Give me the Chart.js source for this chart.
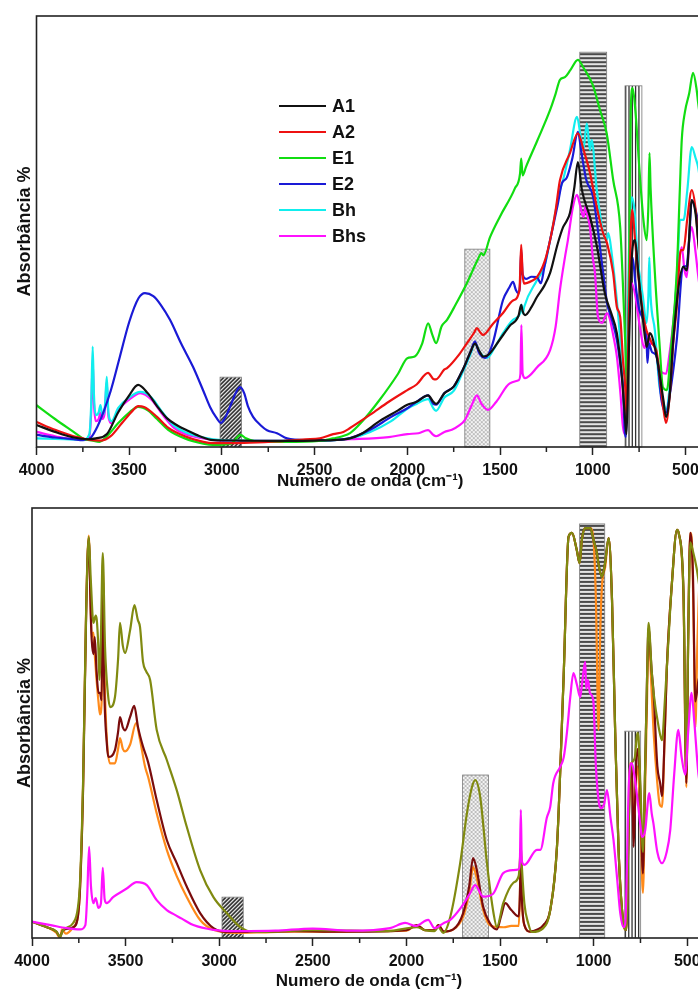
<!DOCTYPE html>
<html>
<head>
<meta charset="utf-8">
<script src="https://cdn.jsdelivr.net/npm/chart.js@4.4.1/dist/chart.umd.min.js"></script>
<style>
html,body{margin:0;padding:0;background:#fff;width:698px;height:989px;overflow:hidden;position:relative;}
canvas{position:absolute;left:0;}
#c1{top:0;}
#c2{top:492px;}
</style>
</head>
<body>
<canvas id="c1" width="720" height="492"></canvas>
<canvas id="c2" width="720" height="500"></canvas>
<script>
// ---------- tick labels ----------
const majorTicks = [4000, 3500, 3000, 2500, 2000, 1500, 1000, 500];
const minorTicks = [3750, 3250, 2750, 2250, 1750, 1250, 750];
const xTitle = 'Numero de onda (cm\u207B\u00B9)';
const yTitle = 'Absorbância %';

// ---------- top panel series: [wavenumber, absorbance (arb. %)] ----------
const topLabels = ['A1', 'A2', 'E1', 'E2', 'Bh', 'Bhs'];
const A1 = [[4000,5.1],[3900,3.5],[3800,2.2],[3720,1.8],[3680,2],[3620,3],[3560,8],[3500,12],[3452,14.4],[3400,12.5],[3350,9.5],[3297,6.7],[3240,5],[3190,3.9],[3120,2.5],[3048,1.6],[2900,1.5],[2700,1.4],[2500,1.5],[2400,1.6],[2309,2],[2250,3],[2150,6],[2050,8.5],[2000,9.8],[1950,10.5],[1888,12],[1860,10.5],[1845,10],[1800,12.5],[1750,14],[1700,18],[1660,22],[1635,24],[1615,22.5],[1590,21],[1560,21.5],[1500,25],[1450,28],[1400,30.5],[1386,33],[1378,31.5],[1365,30.6],[1330,32.5],[1301,34.8],[1260,37.5],[1230,40.4],[1190,47],[1160,51],[1140,52.5],[1123,54.3],[1100,60],[1080,66.1],[1060,60],[1045,57.3],[1015,53.4],[977,46.4],[935,35.7],[900,31],[870,26.4],[845,17.2],[830,9],[818,3],[810,15],[790,43.4],[772,48],[754,40.3],[727,28.7],[709,23.2],[692,26.4],[655,20.9],[619,10.9],[605,7],[585,12],[566,24.8],[511,41.8],[493,41],[466,57.3],[445,54],[432,48],[400,35]];
const A2 = [[4000,5.8],[3900,4],[3800,2.5],[3750,2],[3700,1.6],[3650,1.5],[3600,2.5],[3540,5.5],[3480,8.5],[3452,9.5],[3420,9.3],[3350,7],[3290,4.5],[3200,2.5],[3100,1.2],[3048,0.9],[2950,0.9],[2850,1],[2700,1.3],[2550,1.8],[2472,2],[2400,3],[2345,3.5],[2309,4.4],[2200,7.5],[2100,10.5],[2000,13.2],[1950,14.5],[1888,17.2],[1860,15.8],[1845,15.7],[1800,18],[1786,18.3],[1720,21.5],[1680,24],[1640,26.5],[1625,27.6],[1605,26.5],[1592,26],[1540,28.5],[1484,31.1],[1430,34],[1395,36.5],[1386,46.9],[1378,40],[1370,37.9],[1330,38.5],[1301,39.4],[1260,43],[1230,48],[1200,55],[1177,61.9],[1123,68.2],[1080,72.8],[1050,69],[1015,63.6],[980,56],[944,49.6],[923,47.3],[890,40.4],[870,32.5],[852,30.2],[836,19.5],[825,14],[818,7],[810,20],[795,50],[788,55],[770,47],[750,38],[725,30],[710,27],[700,26],[680,24],[655,22],[625,11],[605,5.6],[585,12],[566,24],[547,32.5],[525,45.7],[511,45.7],[490,53],[466,59.6],[445,55],[432,48],[400,35]];
const E1 = [[4000,9.7],[3900,6.5],[3800,3.5],[3750,2],[3700,1.5],[3660,1.2],[3620,2.5],[3560,5.5],[3500,8],[3452,9.3],[3400,8.5],[3350,6.5],[3290,4],[3200,2],[3100,0.8],[3048,0.5],[2950,0.8],[2900,2.8],[2870,2],[2800,1.2],[2600,1.2],[2450,1.5],[2400,2],[2350,2.5],[2309,3.2],[2250,5.6],[2150,10.9],[2050,17],[2000,20.6],[1960,21],[1920,24],[1888,28.7],[1865,26],[1845,24.1],[1815,28],[1786,29.5],[1740,33],[1679,38],[1620,43.5],[1600,45],[1590,44.5],[1554,48.7],[1500,53.5],[1420,60],[1392,63.5],[1386,66.9],[1378,63],[1360,65],[1300,71],[1230,78.2],[1200,82],[1177,85.2],[1150,85.8],[1120,87.5],[1080,89.8],[1050,88],[1000,84],[961,78.2],[925,72.8],[890,62],[852,51],[825,24.8],[813,13.2],[803,45],[795,78],[785,83.3],[770,78],[747,63.6],[725,52],[709,48],[700,56],[694,68.2],[688,60],[665,40.4],[640,24],[622,13.9],[600,13.2],[580,22],[547,40.4],[530,60],[520,71.2],[503,77.7],[480,82],[459,86.8],[440,83],[432,80],[400,70]];
const E2 = [[4000,2.8],[3900,2.2],[3800,1.8],[3750,1.6],[3711,2],[3680,4],[3640,8],[3600,13],[3550,21],[3500,29],[3450,34.5],[3415,35.7],[3370,35],[3330,33],[3280,29.5],[3220,24],[3156,18.6],[3100,13],[3064,9.3],[3030,6.8],[3005,5.6],[2980,7],[2950,10],[2920,13],[2902,13.9],[2880,12.5],[2860,9.5],[2832,7],[2790,5],[2757,3.9],[2703,3.2],[2649,2],[2550,1.6],[2400,1.6],[2309,2.1],[2200,4],[2087,7],[2000,9],[1950,10.5],[1888,12],[1860,10],[1845,9.8],[1800,12.5],[1750,14],[1700,18],[1660,22],[1635,24.5],[1615,22],[1580,20.7],[1540,24],[1484,34.1],[1450,37],[1430,38.3],[1415,36.5],[1403,35.7],[1392,38],[1386,45.7],[1378,40],[1360,39],[1330,39.5],[1301,39.4],[1280,38],[1260,42],[1230,48],[1190,56],[1166,61.2],[1140,62.5],[1110,67],[1080,73.1],[1060,68],[1035,62],[998,58],[944,40.4],[923,33.4],[900,30],[870,24.8],[845,17],[836,13.2],[828,4],[822,2.3],[812,20],[800,40.4],[785,44],[770,38],[750,32],[710,24.8],[705,19.5],[697,24],[680,22],[655,21],[630,11],[605,7.9],[585,12],[547,24.8],[513,41.8],[495,42],[480,48],[466,57.3],[445,55],[432,52],[400,40]];
const Bh = [[4000,2],[3850,1.8],[3750,1.7],[3715,3],[3705,10],[3697,23.3],[3690,12],[3680,7.4],[3665,8],[3655,9.7],[3645,7.5],[3632,9],[3621,16.3],[3612,8],[3595,6],[3560,9],[3500,11.5],[3440,12.8],[3380,11.5],[3320,8],[3260,5],[3200,3.5],[3100,2.2],[3000,1.6],[2850,1.5],[2650,1.4],[2500,1.4],[2400,1.6],[2309,2],[2200,3.5],[2087,6],[1996,9],[1950,10],[1888,11.1],[1860,9],[1845,8.4],[1800,11.5],[1750,13],[1700,17.5],[1660,21.5],[1635,24.1],[1610,22],[1570,20.7],[1530,23],[1484,26.4],[1430,29.5],[1392,31],[1384,33],[1377,31],[1370,32.5],[1301,38.7],[1260,42],[1230,48],[1177,59.6],[1160,62],[1123,68.9],[1085,76.6],[1065,72],[1051,68.9],[1032,75.1],[1015,68.9],[1006,71.2],[978,59.6],[943,49.6],[925,48],[916,49.6],[898,45],[870,34],[852,24.8],[836,14],[825,5.5],[818,12],[805,45],[790,58],[775,55],[758,44],[730,35],[710,28.8],[700,35],[695,44],[688,35],[665,27],[640,14],[622,10.9],[605,8.6],[585,14],[566,24.8],[540,45],[530,52.7],[510,52.7],[490,59.6],[466,69.6],[445,67],[432,65],[400,55]];
const Bhs = [[4000,3.5],[3900,2.5],[3800,1.8],[3720,1.8],[3705,8],[3697,20.2],[3690,10],[3680,6],[3665,6.5],[3655,8],[3645,6.5],[3632,8],[3621,15.1],[3612,7],[3595,5.5],[3560,8.5],[3500,11],[3440,12.5],[3380,11],[3320,7.5],[3260,4.5],[3200,3],[3100,2],[3000,1.5],[2850,1.4],[2600,1.4],[2309,1.8],[2100,2.3],[2000,3],[1940,3.2],[1888,3.9],[1860,2.8],[1845,2.5],[1800,3.5],[1760,4],[1720,5],[1689,6.3],[1650,10],[1625,12],[1600,10],[1565,8.6],[1520,10.5],[1446,14.8],[1400,15.5],[1390,17],[1385,28.3],[1378,17],[1365,16],[1300,18.5],[1230,22.5],[1200,28],[1177,36.4],[1150,44],[1134,48],[1107,55.7],[1085,58.5],[1068,56],[1050,53.4],[1038,56],[1030,54],[1015,51],[1000,44],[988,40.4],[972,30.2],[950,28.8],[923,31],[910,30],[890,26],[870,21],[850,12],[838,5],[828,3],[815,20],[800,35.7],[790,38],[770,35],[750,29],[720,23],[705,26],[690,24],[675,24],[640,18],[622,17.2],[605,17],[585,22],[566,28.8],[535,43],[520,46.4],[505,41],[493,39.4],[480,48],[466,51],[445,45],[432,40],[400,30]];
const topSeries = [A1, A2, E1, E2, Bh, Bhs];
const topColors = ['#111111', '#ee1111', '#11dd11', '#1a1ad6', '#11eeee', '#ff11ff'];

// ---------- bottom panel series ----------
const bottomLabels = ['Bhs', 'Tr', 'K1', 'K2'];
const Bhs2 = [[4000,3.8],[3900,3],[3815,2.3],[3743,2],[3715,3],[3705,10],[3695,21.2],[3685,12],[3672,8.1],[3660,9.3],[3645,7],[3632,8],[3622,16.3],[3612,9],[3601,8.1],[3567,9.5],[3494,11.5],[3441,13],[3387,12.3],[3334,8.8],[3280,6.5],[3246,5.6],[3200,4.5],[3138,3],[3031,1.9],[2900,1.6],[2700,1.7],[2500,2.2],[2301,1.7],[2087,2.3],[2007,3.5],[1950,2.8],[1884,4.2],[1850,2.3],[1800,3.5],[1766,4.2],[1710,7],[1660,10.4],[1633,12.3],[1590,9.6],[1537,10.3],[1483,15.1],[1430,15.8],[1400,16],[1394,18],[1389,29.8],[1384,18],[1370,17],[1303,20.5],[1285,20.5],[1250,28],[1232,30.5],[1216,36],[1179,39.8],[1160,42],[1143,47.7],[1125,56],[1108,61.6],[1090,59],[1072,56],[1060,60],[1045,64.2],[1040,58],[1030,60],[1020,57],[1002,55.3],[988,39.8],[970,31],[960,30.2],[945,31],[929,34.4],[910,28],[894,22.8],[875,14],[858,5.8],[840,2.5],[831,3.5],[812,36],[796,40.7],[780,37],[768,33],[750,26],[742,23.5],[725,25],[703,33.7],[690,29],[681,26.7],[660,20],[635,17.4],[610,20],[591,25.1],[570,38],[548,48.4],[530,42],[511,38],[495,48],[477,57],[462,50],[440,38],[400,30]];
const Tr = [[4000,3.8],[3920,2.5],[3870,1.5],[3850,0.3],[3835,1.8],[3780,3.5],[3755,7],[3743,13.5],[3727,36.7],[3711,75.6],[3697,93.3],[3686,83.3],[3672,73.3],[3660,75],[3654,74],[3646,68],[3640,60],[3632,70],[3622,89.5],[3610,67.7],[3595,57],[3583,53.7],[3557,56],[3540,65],[3530,73.3],[3515,68],[3503,66.3],[3476,71.6],[3453,77.4],[3435,74],[3423,72.3],[3407,64.2],[3390,62],[3369,60],[3334,48.4],[3280,41.4],[3227,34.4],[3173,25.8],[3102,15.8],[3031,9.5],[2960,5.8],[2889,2.6],[2817,1.4],[2700,1.5],[2500,1.8],[2300,1.7],[2100,1.6],[1945,2.5],[1900,1.8],[1850,1.6],[1830,2.5],[1804,1.2],[1766,4.9],[1713,17.4],[1677,29],[1650,35.1],[1633,36.7],[1606,32.8],[1570,17.4],[1535,5.8],[1517,2.6],[1483,8.1],[1430,12.8],[1400,14.5],[1394,18],[1389,21.2],[1384,17],[1370,8],[1350,3.5],[1330,1.4],[1269,2.3],[1232,6.5],[1196,21.2],[1161,60],[1134,93.3],[1116,94.2],[1090,90.2],[1075,87.2],[1063,92.6],[1045,95.3],[1018,95.3],[1001,92.6],[985,90],[970,86],[956,84],[940,87],[920,93],[902,78.6],[885,47.7],[867,20.5],[841,3.5],[826,1.9],[814,24.4],[805,38],[796,40.7],[780,42],[767,47.7],[761,46.7],[750,35],[737,20],[725,40],[715,60],[707,73.3],[690,62],[680,57],[653,49.1],[635,46],[620,55],[609,63],[582,82.6],[555,94.9],[545,94],[520,80],[505,40],[495,70],[484,92],[470,90],[450,86],[430,80],[400,70]];
const K1 = [[4000,3.8],[3920,2.5],[3870,1.5],[3850,0.3],[3835,1.8],[3780,2.5],[3755,5],[3743,12],[3727,35],[3711,75],[3697,93],[3686,75],[3681,69.3],[3672,66],[3665,70],[3655,62],[3645,57],[3637,57],[3628,55.3],[3622,85],[3615,60],[3600,45],[3592,42.1],[3557,43.7],[3540,48],[3530,51.4],[3515,49],[3503,48.3],[3476,51.4],[3454,54],[3434,49.1],[3407,44.5],[3380,40.9],[3334,32.1],[3280,22.8],[3227,17.4],[3173,11.9],[3102,5.8],[3031,2.3],[2960,1.4],[2800,1.4],[2600,1.6],[2400,1.5],[2200,1.5],[2000,1.8],[1945,3],[1900,1.8],[1850,1.8],[1830,3],[1800,1.5],[1750,2],[1697,5.8],[1665,12],[1644,18.6],[1625,16],[1590,7.2],[1555,3.5],[1517,2],[1495,5],[1472,8.1],[1440,6.5],[1400,5],[1394,10],[1389,20],[1384,10],[1370,3],[1340,1.5],[1300,2],[1269,3],[1232,6.5],[1196,21.2],[1161,60],[1134,93.3],[1116,94.2],[1090,90.2],[1075,87.2],[1063,92.6],[1045,95.3],[1018,95.3],[1001,92.6],[985,90],[970,86],[956,84],[940,87],[920,93],[902,78.6],[885,47.7],[867,20.5],[841,3.5],[826,1.9],[814,24.4],[805,38],[796,40],[787,21.2],[780,30],[770,42],[761,44],[750,33],[737,15],[725,40],[715,60],[707,72],[690,62],[680,57],[660,40],[645,36],[635,33],[620,48],[609,63],[582,82.6],[555,94.9],[545,94],[520,80],[505,36],[495,70],[484,94.2],[470,85],[457,55],[440,60],[400,65]];
const K2 = [[4000,3.8],[3920,2.5],[3870,1.2],[3850,0],[3840,2],[3820,1],[3780,2.5],[3755,5],[3743,12],[3727,36],[3711,76],[3697,93.6],[3688,80],[3681,70],[3672,71],[3665,66],[3655,60],[3645,55],[3637,52],[3628,55],[3622,86.8],[3612,60],[3600,46],[3583,40.6],[3557,40.6],[3540,44],[3530,46.5],[3515,44],[3503,43.4],[3476,45],[3444,50],[3423,46.1],[3396,39.8],[3380,37.5],[3334,29],[3280,20.5],[3227,14.4],[3173,9.5],[3102,4.2],[3031,1.9],[2920,1.2],[2800,1.3],[2600,1.5],[2400,1.4],[2200,1.6],[2000,1.7],[1945,3],[1900,1.8],[1850,1.8],[1830,3],[1800,1.5],[1750,2],[1697,5],[1665,10.5],[1644,16.5],[1625,14],[1590,6.5],[1555,3],[1520,2.6],[1480,2.5],[1440,2.8],[1400,2.8],[1394,10],[1389,21],[1384,10],[1370,3],[1340,1.5],[1300,1.8],[1269,2.5],[1232,6.5],[1196,21.2],[1161,60],[1134,93.3],[1116,94.2],[1090,90.2],[1075,87.2],[1063,92.6],[1045,95.3],[1018,95.3],[1001,92.6],[988,78.6],[974,48.4],[965,70.9],[956,81.7],[938,86.4],[920,93],[902,78.6],[885,47.7],[867,20.5],[841,3.5],[826,1.9],[814,24.4],[805,40.7],[796,38],[787,28],[780,30],[770,40],[761,38],[750,28],[737,10.5],[725,35],[715,55],[707,71],[690,57],[680,48],[660,36],[647,31],[635,30.5],[620,48],[609,63],[582,82.6],[555,94.9],[545,94],[520,78.6],[505,35.1],[495,70],[484,94.2],[475,91.9],[465,70],[457,49],[445,70],[430,85],[400,80]];
const bottomSeries = [Bhs2, Tr, K1, K2];
const bottomColors = ['#ff11ff', '#808a10', '#7a0c0c', '#ff8a1a'];

// ---------- hatched bands: [type, from, to, top value] ----------
const topBands = [['diag', 3010, 2895, 16.2], ['cross', 1690, 1555, 45.9], ['horiz', 1070, 925, 91.6], ['vert', 826, 735, 83.8]];
const bottomBands = [['diag', 2985, 2872, 9.5], ['cross', 1700, 1562, 37.9], ['horiz', 1075, 941, 96.3], ['vert', 834, 749, 48.1]];

Chart.defaults.font.family = '"Liberation Sans", Arial, Helvetica, sans-serif';
Chart.defaults.color = '#111';

const bandPlugin = {
  id: 'bands',
  beforeDatasetsDraw(chart, args, opts) {
    const {ctx, scales: {x, y}} = chart;
    const y0 = y.getPixelForValue(0);
    for (const [type, a, b, top] of opts.bands) {
      const x0 = x.getPixelForValue(a), x1 = x.getPixelForValue(b);
      const yt = y.getPixelForValue(top);
      const L = Math.min(x0, x1), R = Math.max(x0, x1);
      ctx.save();
      ctx.beginPath(); ctx.rect(L, yt, R - L, y0 - yt); ctx.clip();
      if (type === 'diag') {
        ctx.fillStyle = '#e6e6e6'; ctx.fillRect(L, yt, R - L, y0 - yt);
        ctx.strokeStyle = '#333'; ctx.lineWidth = 1.6;
        for (let s = L - (y0 - yt); s < R + 4; s += 4) {
          ctx.beginPath(); ctx.moveTo(s, y0); ctx.lineTo(s + (y0 - yt), yt); ctx.stroke();
        }
      } else if (type === 'cross') {
        ctx.fillStyle = '#f4f4f4'; ctx.fillRect(L, yt, R - L, y0 - yt);
        ctx.fillStyle = '#bdbdbd';
        for (let yy = yt; yy < y0; yy += 2) {
          const off = (Math.round((yy - yt) / 2) % 2) * 2;
          for (let xx = L + off; xx < R; xx += 4) ctx.fillRect(xx, yy, 2, 2);
        }
      } else if (type === 'horiz') {
        ctx.fillStyle = '#e4e4e4'; ctx.fillRect(L, yt, R - L, y0 - yt);
        ctx.fillStyle = '#4a4a4a';
        for (let yy = yt + 1; yy < y0; yy += 4) ctx.fillRect(L, yy, R - L, 2);
      } else if (type === 'vert') {
        ctx.strokeStyle = '#333'; ctx.lineWidth = 1.3;
        for (let xx = L + 0.7; xx <= R; xx += 3.3) {
          ctx.beginPath(); ctx.moveTo(xx, yt); ctx.lineTo(xx, y0); ctx.stroke();
        }
      }
      ctx.restore();
      ctx.save();
      ctx.strokeStyle = '#777'; ctx.lineWidth = 0.8;
      ctx.strokeRect(L, yt, R - L, y0 - yt);
      ctx.restore();
    }
  }
};

const framePlugin = {
  id: 'frame',
  afterDatasetsDraw(chart, args, opts) {
    const {ctx, chartArea: ca, scales: {x}} = chart;
    ctx.save();
    ctx.strokeStyle = '#222'; ctx.lineWidth = 1.6;
    ctx.strokeRect(ca.left, ca.top, ca.right - ca.left, ca.bottom - ca.top);
    ctx.lineWidth = 1.5;
    for (const v of opts.minor) {
      const px = x.getPixelForValue(v);
      ctx.beginPath(); ctx.moveTo(px, ca.bottom); ctx.lineTo(px, ca.bottom + 5); ctx.stroke();
    }
    ctx.restore();
  }
};

const legendPlugin = {
  id: 'freeLegend',
  afterDraw(chart, args, opts) {
    const {ctx} = chart;
    ctx.save();
    ctx.font = 'bold 18px "Liberation Sans", Arial, sans-serif';
    ctx.textBaseline = 'middle';
    chart.data.datasets.forEach((ds, i) => {
      const yy = opts.y + i * opts.row;
      ctx.strokeStyle = ds.borderColor; ctx.lineWidth = 2;
      ctx.beginPath(); ctx.moveTo(opts.x, yy); ctx.lineTo(opts.x + opts.len, yy); ctx.stroke();
      ctx.fillStyle = '#111';
      ctx.fillText(ds.label, opts.x + opts.len + 6, yy + 1);
    });
    ctx.restore();
  }
};

function makeChart(id, labels, series, colors, bands, cfg) {
  return new Chart(document.getElementById(id), {
    type: 'line',
    data: {
      datasets: series.map((s, i) => ({
        label: labels[i],
        data: s.map(([x, y]) => ({x, y})),
        borderColor: colors[i],
        borderWidth: 2.2,
        pointRadius: 0,
        fill: false,
        cubicInterpolationMode: 'monotone'
      }))
    },
    options: {
      responsive: false,
      animation: false,
      layout: {padding: {top: cfg.padTop, right: cfg.padRight, left: 0, bottom: 0}},
      plugins: {
        legend: {display: false},
        tooltip: {enabled: false},
        bands: {bands},
        frame: {minor: minorTicks},
        freeLegend: cfg.legend
      },
      scales: {
        x: {
          type: 'linear', reverse: true, min: 400, max: 4000,
          afterBuildTicks: (s) => { s.ticks = majorTicks.map(v => ({value: v})); },
          afterFit: (s) => { s.height = cfg.xHeight; },
          ticks: {
            callback: (v) => String(v), autoSkip: false, maxRotation: 0,
            font: {size: 16, weight: 'bold'}, color: '#111', padding: 6
          },
          grid: {display: true, drawOnChartArea: false, drawTicks: true, tickLength: 8, tickWidth: 1.5, tickColor: '#222'},
          border: {display: false},
          title: {display: true, text: xTitle, font: {size: 17, weight: 'bold'}, color: '#111', padding: {top: 0, bottom: cfg.titlePad}}
        },
        y: {
          min: 0, max: 100,
          afterFit: (s) => { s.width = cfg.yWidth; },
          ticks: {display: false},
          grid: {display: false},
          border: {display: false},
          title: {display: true, text: yTitle, font: {size: 18, weight: 'bold'}, color: '#111', padding: {top: 14, bottom: 0}}
        }
      }
    },
    plugins: [bandPlugin, framePlugin, legendPlugin]
  });
}

makeChart('c1', topLabels, topSeries, topColors, topBands,
  {padTop: 16, padRight: 16, xHeight: 45, yWidth: 36.5, titlePad: 0, legend: {x: 279, y: 106, row: 26, len: 47}});
makeChart('c2', bottomLabels, bottomSeries, bottomColors, bottomBands,
  {padTop: 16, padRight: 14, xHeight: 54, yWidth: 32, titlePad: 0, legend: {x: 293, y: 637, row: 26, len: 47}});
</script>
</body>
</html>
